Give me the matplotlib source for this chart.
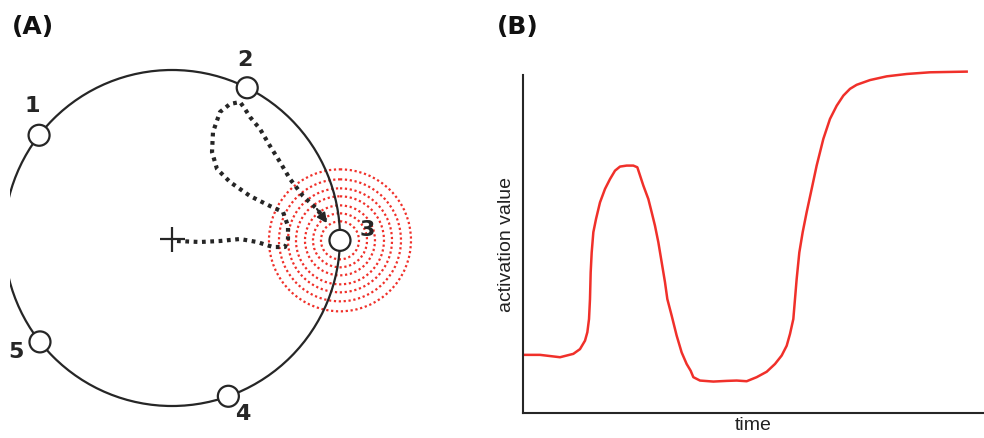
import numpy as np
import matplotlib
matplotlib.use("Agg")
import matplotlib.pyplot as plt
from matplotlib.patches import Circle, FancyArrowPatch

# ---- panel A: ring of targets, drawn in pixel-like units (y grows downwards)
RING_CENTER = (172, 239)
RING_RADIUS = 168
node_names  = ["1", "2", "3", "4", "5"]
node_angles = [142.3, 63.4, -0.8, -70.4, -141.8]      # degrees, counter-clockwise
label_offsets = [(-7, -30), (-2, -29), (27, -11), (14, 17), (-24, 9)]
ripple_radii = [19, 27, 35, 44, 52, 61, 71]

# wandering trajectory from the start cross to target 3
path_x = [177, 200, 220, 240, 257, 273, 285, 288, 288, 283, 270, 250, 230,
          217, 212, 213, 220, 230, 240, 245, 250, 260, 270, 280, 290, 303,
          317, 326]
path_y = [242, 243, 242, 240, 243, 248, 248, 240, 227, 213, 207, 197, 183,
          170, 153, 133, 113, 105, 103, 110, 118, 130, 147, 163, 180, 197,
          210, 222]

# ---- panel B: activation trace of the target unit
time = [0.043, 0.369, 0.803, 1.092, 1.236, 1.345, 1.396, 1.432, 1.453, 1.468,
        1.490, 1.526, 1.584, 1.670, 1.779, 1.887, 1.996, 2.104, 2.249, 2.393,
        2.480, 2.610, 2.719, 2.791, 2.863, 2.936, 3.008, 3.080, 3.131, 3.225,
        3.333, 3.442, 3.550, 3.637, 3.695, 3.839, 4.129, 4.418, 4.635, 4.852,
        5.069, 5.286, 5.466, 5.611, 5.720, 5.792, 5.864, 5.900, 5.936, 5.994,
        6.067, 6.153, 6.262, 6.370, 6.515, 6.659, 6.804, 6.949, 7.093, 7.238,
        7.527, 7.889, 8.323, 8.829, 9.624]
activation = [0.172, 0.172, 0.165, 0.175, 0.189, 0.214, 0.239, 0.278, 0.337,
              0.416, 0.475, 0.535, 0.574, 0.623, 0.663, 0.692, 0.717, 0.729,
              0.732, 0.732, 0.727, 0.673, 0.633, 0.594, 0.554, 0.505, 0.446,
              0.387, 0.337, 0.288, 0.229, 0.179, 0.145, 0.125, 0.106, 0.096,
              0.093, 0.095, 0.096, 0.094, 0.106, 0.122, 0.145, 0.170, 0.199,
              0.234, 0.278, 0.337, 0.396, 0.475, 0.535, 0.594, 0.663, 0.732,
              0.811, 0.870, 0.909, 0.939, 0.959, 0.971, 0.985, 0.996, 1.003,
              1.008, 1.010]

W, H = 984, 439
INK = "#262626"
RED = "#f0302a"

fig = plt.figure(figsize=(W / 100, H / 100), dpi=100)

# ---------------------------------------------------------------- panel A
axA = fig.add_axes([10 / W, 0, 470 / W, 1])
axA.set_xlim(10, 480)
axA.set_ylim(H, 0)
axA.set_aspect("equal")
axA.axis("off")

cx, cy = RING_CENTER
goal_x = cx + RING_RADIUS * np.cos(np.radians(node_angles[2]))
goal_y = cy - RING_RADIUS * np.sin(np.radians(node_angles[2]))
for r in ripple_radii:
    axA.add_patch(Circle((goal_x, goal_y), r, fill=False, ec=RED, lw=1.6,
                         ls=(0, (1, 1.2)), zorder=1))

axA.add_patch(Circle(RING_CENTER, RING_RADIUS, fill=False, ec=INK, lw=1.6,
                     zorder=2))

axA.plot(path_x, path_y, color=INK, lw=3.0, ls=(0, (0.9, 1.1)),
         solid_capstyle="butt", zorder=3)
axA.add_patch(FancyArrowPatch((path_x[-2], path_y[-2]), (path_x[-1] + 1, path_y[-1] + 2),
                              arrowstyle="-|>", mutation_scale=14, color=INK,
                              lw=1.5, shrinkA=0, shrinkB=0, zorder=3))

axA.plot([cx], [cy + 1], marker="+", ms=18, mew=1.6, color=INK, zorder=3)

for name, ang, (ox, oy) in zip(node_names, node_angles, label_offsets):
    nx = cx + RING_RADIUS * np.cos(np.radians(ang))
    ny = cy - RING_RADIUS * np.sin(np.radians(ang))
    axA.add_patch(Circle((nx, ny), 10.5, fc="white", ec=INK, lw=1.6, zorder=4))
    axA.text(nx + ox, ny + oy, name, ha="center", va="center",
             fontsize=16, fontweight="bold", color=INK, family="DejaVu Sans")

fig.text(12 / W, 1 - 27 / H, "(A)", fontsize=18, fontweight="bold",
         va="center", ha="left", color="#111111", family="DejaVu Sans")
fig.text(497 / W, 1 - 27 / H, "(B)", fontsize=18, fontweight="bold",
         va="center", ha="left", color="#111111", family="DejaVu Sans")

# ---------------------------------------------------------------- panel B
axB = fig.add_axes([523 / W, (H - 414) / H, (W - 523) / W, (414 - 76) / H])
axB.set_xlim(0, 10)
axB.set_ylim(0, 1)
axB.plot(time, activation, color=RED, lw=1.8, clip_on=False,
         solid_joinstyle="round")
for side in ("top", "right"):
    axB.spines[side].set_visible(False)
for side in ("left", "bottom"):
    axB.spines[side].set_linewidth(1.5)
    axB.spines[side].set_color(INK)
axB.set_xticks([])
axB.set_yticks([])
axB.set_xlabel("time", fontsize=14, family="Liberation Sans", color="#222222",
               labelpad=2)
axB.set_ylabel("activation value", fontsize=14, family="Liberation Sans",
               color="#222222", labelpad=6)

fig.savefig("out.png", dpi=100)
